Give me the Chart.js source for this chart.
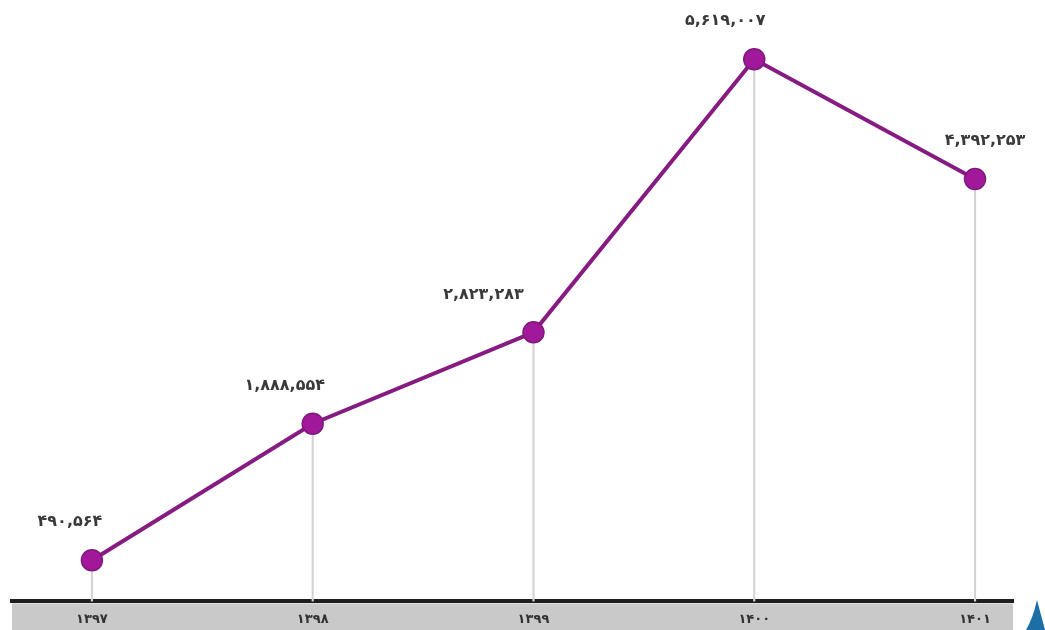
<!DOCTYPE html>
<html>
<head>
<meta charset="utf-8">
<script src="https://cdn.jsdelivr.net/npm/chart.js@4/dist/chart.umd.min.js"></script>
<style>
html,body{margin:0;padding:0;background:#fff;}
#wrap{width:1045px;height:630px;position:relative;}
</style>
</head>
<body>
<div id="wrap"><canvas id="c" width="1045" height="630"></canvas></div>
<script>
const years = ['۱۳۹۷', '۱۳۹۸', '۱۳۹۹', '۱۴۰۰', '۱۴۰۱'];
const values = [490564, 1888554, 2823283, 5619007, 4392253];

const faDigits = '۰۱۲۳۴۵۶۷۸۹';
function toFa(n) {
  return n.toLocaleString('en-US').replace(/\d/g, d => faDigits[d]);
}

const points = values.map((v, i) => ({ x: i, y: v }));

const bandPlugin = {
  id: 'band',
  beforeDraw(chart) {
    const ctx = chart.ctx;
    const a = chart.chartArea;
    ctx.save();
    ctx.fillStyle = '#c9c9c9';
    ctx.fillRect(a.left, a.bottom + 2, a.right - a.left, chart.height - a.bottom - 2);
    ctx.restore();
  },
  afterDraw(chart) {
    const ctx = chart.ctx;
    ctx.save();
    ctx.fillStyle = '#1b6ea6';
    ctx.beginPath();
    ctx.moveTo(1037, 600);
    ctx.quadraticCurveTo(1041, 615, 1045, 630);
    ctx.lineTo(1026, 630);
    ctx.quadraticCurveTo(1033, 618, 1037, 600);
    ctx.fill();
    ctx.restore();
  }
};

// horizontal nudges of the value labels relative to their points (styling only)
const labelShift = [-22, -28, -50, -29, 10];

const labelPlugin = {
  id: 'valueLabels',
  afterDatasetsDraw(chart) {
    const ctx = chart.ctx;
    const meta = chart.getDatasetMeta(1);
    ctx.save();
    ctx.font = '600 16px "DejaVu Sans", sans-serif';
    ctx.fillStyle = '#3a3a3a';
    ctx.textAlign = 'center';
    ctx.textBaseline = 'middle';
    meta.data.forEach((pt, i) => {
      const txt = toFa(values[i]);
      const w = ctx.measureText(txt).width;
      let x = pt.x + labelShift[i];
      if (x + w / 2 > chart.width - 2) x = chart.width - 2 - w / 2;
      if (x - w / 2 < 3) x = 3 + w / 2;
      ctx.fillText(txt, x, pt.y - 38);
    });
    ctx.restore();
  }
};

new Chart(document.getElementById('c'), {
  data: {
    datasets: [
      {
        type: 'bar',
        data: points,
        backgroundColor: '#d4d4d4',
        barThickness: 1.5,
        order: 2
      },
      {
        type: 'line',
        data: points,
        borderColor: '#861c82',
        borderWidth: 4,
        pointRadius: 10.5,
        pointBackgroundColor: '#a2189a',
        pointBorderColor: '#7e1a7a',
        pointBorderWidth: 1.5,
        tension: 0,
        fill: false,
        order: 1
      }
    ]
  },
  plugins: [bandPlugin, labelPlugin],
  options: {
    responsive: false,
    animation: false,
    events: [],
    layout: { padding: { left: 12, right: 32, top: 20, bottom: -7 } },
    plugins: { legend: { display: false }, tooltip: { enabled: false } },
    scales: {
      x: {
        type: 'linear',
        offset: false,
        min: -0.362,
        max: 4.172,
        grid: { display: false, drawTicks: false, offset: false },
        border: { display: true, color: '#1e1e1e', width: 4 },
        afterBuildTicks(scale) {
          scale.ticks = years.map((_, i) => ({ value: i }));
        },
        ticks: {
          autoSkip: false,
          maxRotation: 0,
          padding: 10,
          color: '#333333',
          font: { family: '"DejaVu Sans", sans-serif', size: 13, weight: '600' },
          callback: (v) => years[v]
        }
      },
      y: {
        display: false,
        min: 70000,
        max: 6020000
      }
    }
  }
});
</script>
</body>
</html>
